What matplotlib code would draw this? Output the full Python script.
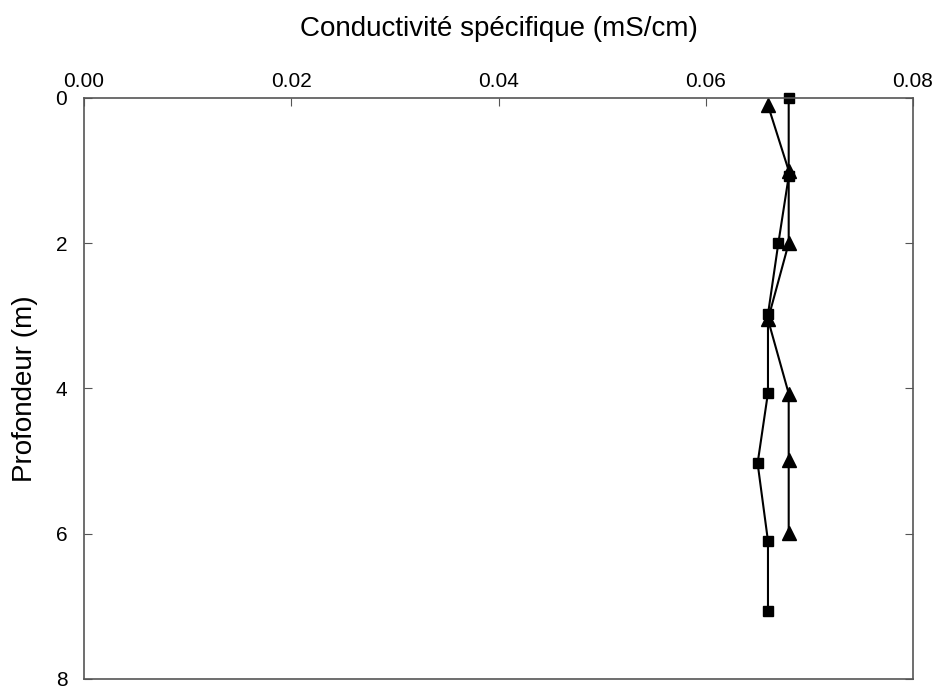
import matplotlib
matplotlib.use('Agg')
from matplotlib import pyplot as plt

plt.rcParams['font.family'] = ['Liberation Sans', 'DejaVu Sans']

# serie carres
prof_carre = [0, 1.08, 2.0, 2.98, 4.06, 5.03, 6.1, 7.06]
cond_carre = [0.068, 0.068, 0.067, 0.066, 0.066, 0.065, 0.066, 0.066]
# serie triangles
prof_tri = [0.1, 1.0, 2.0, 3.05, 4.07, 4.99, 5.99]
cond_tri = [0.066, 0.068, 0.068, 0.066, 0.068, 0.068, 0.068]

x_ticks = [0.00, 0.02, 0.04, 0.06, 0.08]
y_ticks = [0, 2, 4, 6, 8]

fig = plt.figure(figsize=(9.41, 6.9), dpi=100)
ax = fig.add_axes([0.0893, 0.016, 0.881, 0.842])

ax.plot(cond_carre, prof_carre, c='black', lw=1.5, marker='s', ms=7, clip_on=False)
ax.plot(cond_tri, prof_tri, c='black', lw=1.5, marker='^', ms=10, clip_on=False)

ax.set_xlim(0, 0.08)
ax.set_ylim(8, 0)
ax.set_xticks(x_ticks)
ax.set_xticklabels(['%.2f' % v for v in x_ticks])
ax.set_yticks(y_ticks)
ax.xaxis.tick_top()
ax.xaxis.set_label_position('top')
ax.tick_params(axis='x', direction='in', top=True, bottom=False, labelsize=15, length=6, color='#555555', pad=5)
ax.tick_params(axis='y', direction='in', left=True, right=True, labelsize=15, length=6, color='#555555', pad=12)
for s in ax.spines.values():
    s.set_color('#555555')
    s.set_linewidth(1.2)

ax.set_xlabel('Conductivité spécifique (mS/cm)', fontsize=20, labelpad=26)
ax.set_ylabel('Profondeur (m)', fontsize=20, labelpad=13)

fig.savefig('out.png', dpi=100)
